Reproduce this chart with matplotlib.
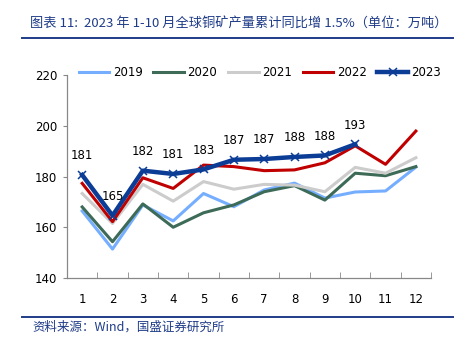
import numpy as np
import matplotlib
matplotlib.use("Agg")
import matplotlib.pyplot as plt
from matplotlib.lines import Line2D

plt.rcParams['font.family'] = ['DejaVu Sans', 'Noto Sans CJK SC']

months = list(range(1, 13))
y2019 = [166.4, 151.4, 168.8, 162.5, 173.3, 168.1, 174.7, 177.4, 171.5, 173.9, 174.3, 183.7]
y2020 = [168.0, 154.3, 169.2, 160.0, 165.7, 168.8, 174.0, 176.4, 170.7, 181.3, 180.3, 183.9]
y2021 = [173.3, 161.5, 176.9, 170.3, 178.0, 175.0, 176.9, 176.6, 174.0, 183.6, 181.3, 187.4]
y2022 = [177.3, 162.2, 179.5, 175.3, 184.5, 183.9, 182.3, 182.6, 185.4, 192.1, 184.8, 197.9]
y2023 = [180.6, 164.6, 182.3, 181.0, 182.8, 186.6, 186.9, 187.7, 188.3, 192.7]
labels2023 = ['181', '165', '182', '181', '183', '187', '187', '188', '188', '193']

series = [
    ('2019', y2019, '#76AEFF', 2.2),
    ('2020', y2020, '#3D6B58', 2.2),
    ('2021', y2021, '#CCCCCC', 2.2),
    ('2022', y2022, '#C00000', 2.2),
]

fig = plt.figure(figsize=(4.67, 3.5), dpi=100)
ax = fig.add_axes([0.1435, 0.2057, 0.7795, 0.58])

for name, vals, col, lw in series:
    ax.plot(months[:len(vals)], vals, color=col, lw=lw, label=name, zorder=2)

ax.plot(months[:len(y2023)], y2023, color='#0B3C96', lw=3.2, marker='x',
        markersize=5.5, markeredgewidth=1.1, label='2023', zorder=3)

for m, v, t in zip(months, y2023, labels2023):
    ax.annotate(t, (m, v), xytext=(0, 9), textcoords='offset points',
                ha='center', va='bottom', fontsize=8.5, color='black')

ax.set_xlim(0.5, 12.5)
ax.set_ylim(140, 220)
ax.set_yticks([140, 160, 180, 200, 220])
ax.set_xticks(months)
ax.set_xticks(np.arange(0.5, 13, 1), minor=True)
ax.tick_params(axis='x', which='major', length=0, pad=11, labelsize=8.5)
ax.tick_params(axis='x', which='minor', length=4, direction='in', color='#888888')
ax.tick_params(axis='y', length=3, color='#888888', labelsize=8.5, pad=4)
for s in ['top', 'right']:
    ax.spines[s].set_visible(False)
for s in ['left', 'bottom']:
    ax.spines[s].set_color('#888888')
    ax.spines[s].set_linewidth(0.9)

ax.legend(loc='center', bbox_to_anchor=(0.53, 1.01), ncol=5, frameon=False,
          fontsize=8.5, handlelength=2.6, handletextpad=0.3, columnspacing=0.9,
          borderpad=0, borderaxespad=0)

title_col = '#1F3C88'
fig.text(0.065, 0.931, '图表 11:  2023 年 1-10 月全球铜矿产量累计同比增 1.5%（单位：万吨）',
         fontsize=9.5, color=title_col, style='italic', va='center',
         family=['Noto Sans CJK SC', 'DejaVu Sans'])
fig.add_artist(Line2D([0.047, 0.97], [0.891, 0.891], color=title_col, lw=1.4))
fig.add_artist(Line2D([0.047, 0.97], [0.094, 0.094], color=title_col, lw=1.4))
fig.text(0.07, 0.064, '资料来源：Wind，国盛证券研究所', fontsize=9, color=title_col,
         style='italic', va='center', family=['Noto Sans CJK SC', 'DejaVu Sans'])

fig.savefig('out.png', dpi=100)
